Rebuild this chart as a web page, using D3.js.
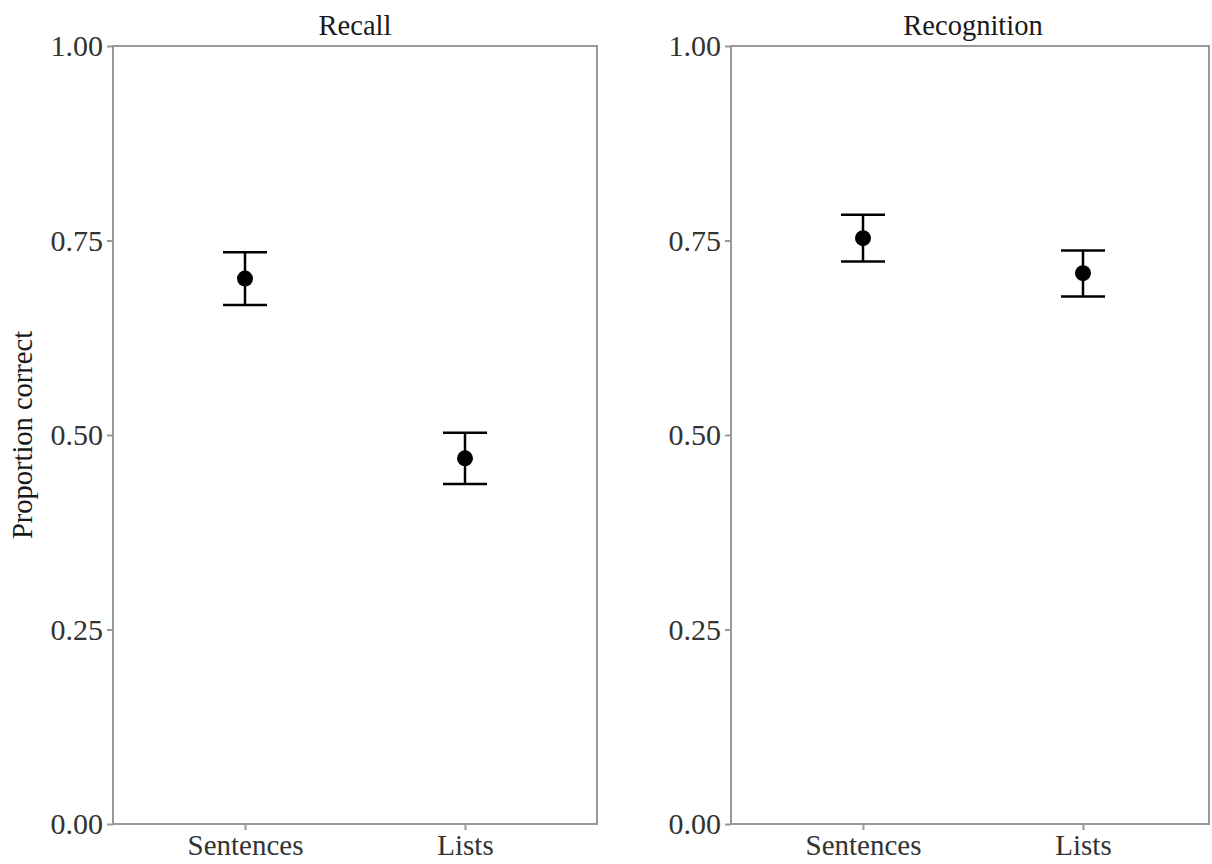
<!DOCTYPE html>
<html><head><meta charset="utf-8">
<script src="https://cdn.jsdelivr.net/npm/d3@7"></script>
<style>body{margin:0;background:#fff}svg{display:block}text{font-family:"Liberation Serif","Times New Roman",serif}</style>
</head><body><svg id="c" width="1212" height="864"></svg>
<script>
const panels = ["Recall", "Recognition"];
const categories = ["Sentences", "Lists"];
const means = { Recall: [0.701, 0.470], Recognition: [0.753, 0.708] };
const lowers = { Recall: [0.667, 0.437], Recognition: [0.723, 0.678] };
const uppers = { Recall: [0.735, 0.503], Recognition: [0.783, 0.737] };
const yTicks = [0, 0.25, 0.5, 0.75, 1.0];
const yLabel = "Proportion correct";

const svg = d3.select("#c");
const plotTop = 46, plotBottom = 824;
const panelLefts = [113, 731];
const panelW = 484;
const drawnW = [484, 478];
const y = d3.scaleLinear().domain([0, 1]).range([plotBottom, plotTop]);
const border = "#999";

panels.forEach((p, i) => {
  const L = panelLefts[i];
  const x = d3.scalePoint().domain(categories).range([L, L + panelW]).padding(0.6);
  const g = svg.append("g");
  g.append("rect").attr("x", L).attr("y", plotTop).attr("width", drawnW[i]).attr("height", plotBottom - plotTop)
    .attr("fill", "none").attr("stroke", border).attr("stroke-width", 2);
  const ya = g.append("g").attr("transform", `translate(${L},0)`)
    .call(d3.axisLeft(y).tickValues(yTicks).tickFormat(d3.format(".2f")).tickSize(6).tickPadding(4));
  ya.select(".domain").remove();
  ya.selectAll("line").attr("stroke", border).attr("stroke-width", 2);
  ya.selectAll("text").attr("font-size", 30).attr("fill", "#333").attr("font-family", '"Liberation Serif",serif');
  const xa = g.append("g").attr("transform", `translate(0,${plotBottom})`)
    .call(d3.axisBottom(x).tickSize(6).tickPadding(4));
  xa.select(".domain").remove();
  xa.selectAll("line").attr("stroke", border).attr("stroke-width", 2);
  xa.selectAll("text").attr("font-size", 29).attr("fill", "#333").attr("font-family", '"Liberation Serif",serif');
  g.append("text").attr("x", L + panelW / 2).attr("y", 35).attr("text-anchor", "middle")
    .attr("font-size", 28.5).attr("fill", "#1a1a1a").text(p);
  const capW = 44;
  categories.forEach((c, j) => {
    const cx = x(c);
    g.append("line").attr("x1", cx).attr("x2", cx).attr("y1", y(lowers[p][j])).attr("y2", y(uppers[p][j]))
      .attr("stroke", "#000").attr("stroke-width", 2.5);
    [lowers[p][j], uppers[p][j]].forEach(v => {
      g.append("line").attr("x1", cx - capW / 2).attr("x2", cx + capW / 2).attr("y1", y(v)).attr("y2", y(v))
        .attr("stroke", "#000").attr("stroke-width", 2.5);
    });
    g.append("circle").attr("cx", cx).attr("cy", y(means[p][j])).attr("r", 8).attr("fill", "#000");
  });
});

svg.append("text").attr("transform", `translate(32,${(plotTop + plotBottom) / 2}) rotate(-90)`)
  .attr("text-anchor", "middle").attr("font-size", 28.5).attr("fill", "#1a1a1a").text(yLabel);
</script></body></html>
